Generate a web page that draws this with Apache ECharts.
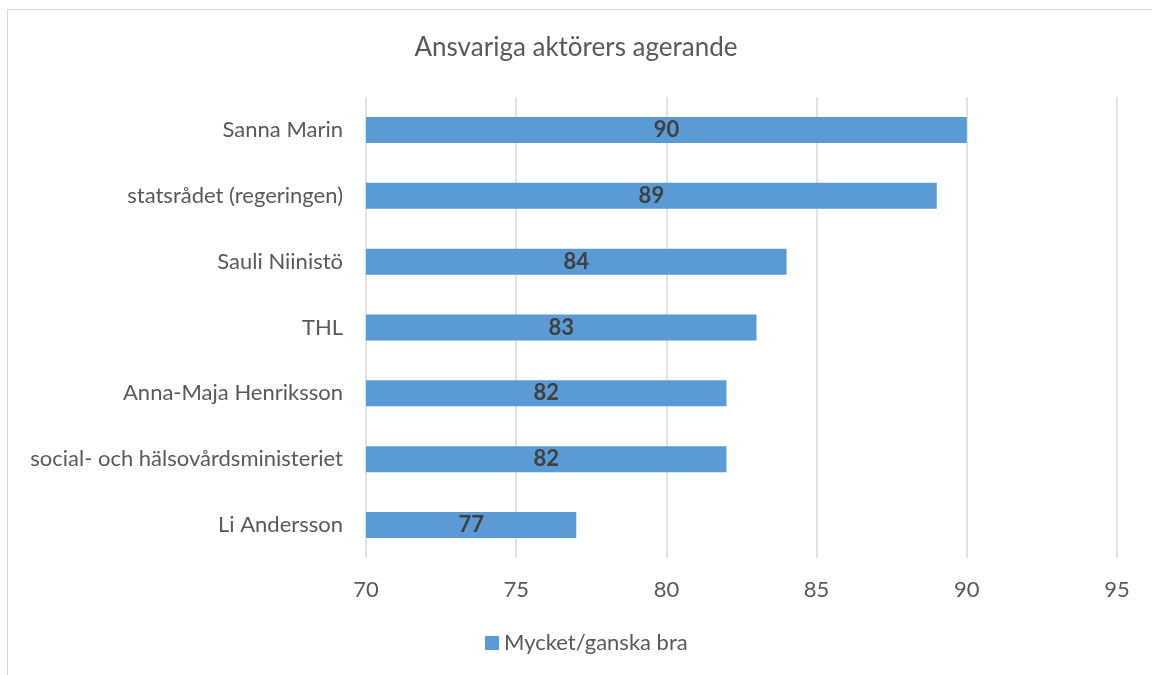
<!DOCTYPE html>
<html>
<head>
<meta charset="utf-8">
<script src="https://cdn.jsdelivr.net/npm/echarts@6/dist/echarts.min.js"></script>
<style>
html,body{margin:0;padding:0;background:#fff;}
#frame{position:absolute;left:7px;top:9px;width:1145px;height:666px;border-left:1.5px solid #d9d9d9;border-top:1.5px solid #d9d9d9;box-sizing:border-box;}
#chart{position:absolute;left:0;top:0;width:1152px;height:675px;}
</style>
</head>
<body>
<div id="frame"></div>
<div id="chart"></div>
<script>
const categories = ["Sanna Marin","statsrådet (regeringen)","Sauli Niinistö","THL","Anna-Maja Henriksson","social- och hälsovårdsministeriet","Li Andersson"];
const values = [90, 89, 84, 83, 82, 82, 77];
const seriesName = "Mycket/ganska bra";
const titleText = "Ansvariga aktörers agerande";
const xMin = 70, xMax = 95, xStep = 5;

const font = "Lato";
const chart = echarts.init(document.getElementById('chart'));
chart.setOption({
  backgroundColor: 'transparent',
  animation: false,
  title: {
    text: titleText, left: 'center', top: 30,
    textStyle: {fontFamily: font, fontSize: 26, fontWeight: 'normal', color: '#595959'}
  },
  legend: {
    bottom: 16, left: 480,
    itemWidth: 14, itemHeight: 14, itemGap: 8,
    icon: 'rect',
    textStyle: {fontFamily: font, fontSize: 22, color: '#595959'},
    data: [seriesName]
  },
  grid: {left: 366, right: 35, top: 97, bottom: 117, containLabel: false},
  xAxis: {
    type: 'value', min: xMin, max: xMax, interval: xStep,
    axisLine: {show: false}, axisTick: {show: false},
    axisLabel: {fontFamily: font, fontSize: 22, color: '#595959', margin: 21},
    splitLine: {show: true, lineStyle: {color: '#d9d9d9', width: 1.5}}
  },
  yAxis: {
    type: 'category', data: categories, inverse: true,
    axisLine: {show: false}, axisTick: {show: false},
    axisLabel: {fontFamily: font, fontSize: 22, color: '#595959', margin: 23}
  },
  series: [{
    name: seriesName, type: 'bar', data: values, barWidth: 26,
    itemStyle: {color: '#5b9bd5'},
    label: {show: true, position: 'inside', fontFamily: font, fontSize: 22, fontWeight: 'bold', color: '#404040'}
  }]
});
</script>
</body>
</html>
